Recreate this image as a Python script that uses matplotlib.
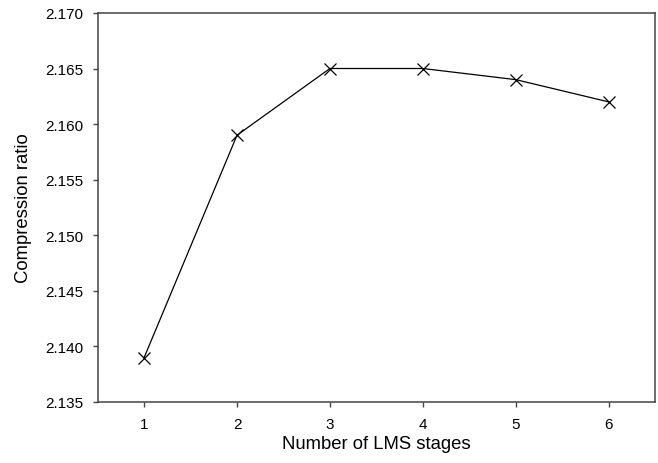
import matplotlib
matplotlib.use("Agg")
import matplotlib.pyplot as plt

plt.rcParams["font.family"] = ["Liberation Sans", "DejaVu Sans"]

# Compression ratio vs. number of LMS stages
stages = [1, 2, 3, 4, 5, 6]
ratio = [2.139, 2.159, 2.165, 2.165, 2.164, 2.162]
y_ticks = [2.135, 2.140, 2.145, 2.150, 2.155, 2.160, 2.165, 2.170]

fig = plt.figure(figsize=(6.58, 4.64), dpi=100)
ax = fig.add_axes([0.1485, 0.1315, 0.8469, 0.8385])

ax.plot(stages, ratio, color="black", lw=0.9, marker="x", ms=8, mew=0.9)

ax.set_xlim(0.5, 6.5)
ax.set_ylim(2.135, 2.170)
ax.set_xticks(stages)
ax.set_yticks(y_ticks)
ax.set_yticklabels([f"{v:.3f}" for v in y_ticks])
ax.tick_params(direction="out", length=3.6, width=1.0, labelsize=11, color="#444444")
ax.tick_params(axis="x", pad=7)
ax.tick_params(axis="y", pad=6.5)

for s in ax.spines.values():
    s.set_color("#444444")
    s.set_linewidth(1.1)

ax.set_xlabel("Number of LMS stages", fontsize=13.3, labelpad=3)
ax.set_ylabel("Compression ratio", fontsize=13.3, labelpad=10)

fig.savefig("out.png", dpi=100)
